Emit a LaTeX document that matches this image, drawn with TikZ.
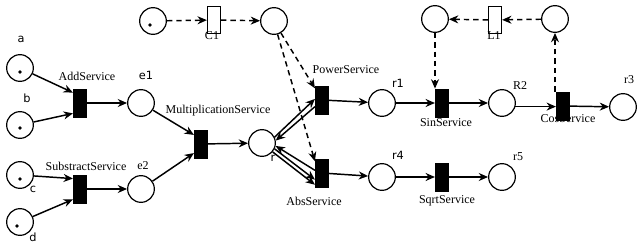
\documentclass[tikz,border=0pt]{standalone}
\usepackage{fontspec}
\setmainfont{Liberation Serif}
\newfontfamily\lblsans{DejaVu Sans}
\usetikzlibrary{arrows.meta}
\begin{document}
\begin{tikzpicture}[x=0.75pt,y=-0.75pt,
  place/.style={circle,draw,line width=0.9pt,minimum size=20pt,inner sep=0pt},
  trans/.style={rectangle,draw,fill=black,line width=0.6pt,minimum width=10pt,minimum height=21pt,inner sep=0pt},
  ctrans/.style={rectangle,draw,fill=white,line width=0.7pt,minimum width=10pt,minimum height=20pt,inner sep=0pt},
  arc/.style={-{Stealth[length=7pt,width=6pt]},line width=1.1pt},
  darc/.style={arc,dash pattern=on 4pt off 3pt},
  tok/.style={circle,fill=black,inner sep=0pt,minimum size=2.8pt},
  slbl/.style={font=\lblsans\fontsize{8.5}{10}\selectfont,inner sep=0pt},
  rlbl/.style={font=\fontsize{9}{11}\selectfont,inner sep=0pt}]
\useasboundingbox (0,0) rectangle (640,246);
% places
\node[place] (a) at (20,68) {};
\node[place] (b) at (20,125) {};
\node[place] (c) at (20,175) {};
\node[place] (d) at (20,222) {};
\node[place] (e1) at (141,103) {};
\node[place] (e2) at (141,189) {};
\node[place] (r) at (262,143) {};
\node[place] (pc1) at (153,21) {};
\node[place] (pc2) at (274,21) {};
\node[place] (r1) at (382,103) {};
\node[place] (R2) at (502,103) {};
\node[place] (r3) at (623,107) {};
\node[place] (r4) at (382,177) {};
\node[place] (r5) at (502,177) {};
\node[place] (pl1) at (435,19) {};
\node[place] (pl2) at (555,19) {};
% tokens
\node[tok] (ta) at (20,72) {};
\node[tok] (tb) at (20,128) {};
\node[tok] (tc) at (20,179) {};
\node[tok] (td) at (17,226) {};
\node[tok] (tp) at (150,25) {};
% transitions
\node[trans] (add) at (80,103) {};
\node[trans] (sub) at (80,189) {};
\node[trans] (mul) at (201,144) {};
\node[trans] (pow) at (322,100) {};
\node[trans] (abs) at (322,173) {};
\node[trans] (sin) at (442,103) {};
\node[trans] (cos) at (563,106) {};
\node[trans] (sqrt) at (442,177) {};
\node[ctrans] (C1) at (214,20) {};
\node[ctrans] (L1) at (495,20) {};
% labels
\node[slbl] (la) at (21,39) {a};
\node[slbl] (lb) at (27,98) {b};
\node[slbl] (lc) at (33,189) {c};
\node[slbl] (ld) at (33,237) {d};
\node[slbl] (le1) at (146,75) {e1};
\node[rlbl] (le2) at (143,166) {e2};
\node[slbl] (lr) at (273,158) {r};
\node[slbl] (lr1) at (398,83) {r1};
\node[slbl] (lr4) at (398,155) {r4};
\node[rlbl] (lR2) at (520,86) {R2};
\node[rlbl] (lr3) at (629,80) {r3};
\node[rlbl] (lr5) at (518,157) {r5};
\node[rlbl] (ladd) at (87,76) {AddService};
\node[rlbl] (lsub) at (86,166) {SubstractService};
\node[rlbl] (lmul) at (218,111) {MultiplicationService};
\node[rlbl] (lpow) at (346,70) {PowerService};
\node[rlbl] (labs) at (314,201) {AbsService};
\node[rlbl] (lsin) at (446,123) {SinService};
\node[rlbl] (lcos) at (568,119) {CosService};
\node[rlbl] (lsqrt) at (447,201) {SqrtService};
\node[rlbl] (lC1) at (212,36) {C1};
\node[rlbl] (lL1) at (494,36) {L1};
% arcs
\draw[arc] (a) -- ([yshift=-3pt]add.north west);
\draw[arc] (b) -- ([yshift=3pt]add.south west);
\draw[arc] (c) -- ([yshift=-3pt]sub.north west);
\draw[arc] (d) -- ([yshift=3pt]sub.south west);
\draw[arc] (add) -- (e1);
\draw[arc] (sub) -- (e2);
\draw[arc] (e1) -- ([yshift=-4pt]mul.north west);
\draw[arc] (e2) -- ([yshift=4pt]mul.south west);
\draw[arc] (mul) -- (r);
\draw[arc] (r.25) -- ([yshift=-10pt]pow.north west);
\draw[arc] ([yshift=-5pt]pow.west) -- (r.10);
\draw[arc] ([yshift=2pt]abs.west) -- (r.-12);
\draw[arc] (r.-25) -- ([yshift=-5pt]abs.west);
\draw[arc] (r.-40) -- ([yshift=2pt]abs.south west);
\draw[arc] (pow) -- (r1);
\draw[arc] (r1) -- (sin);
\draw[arc] (sin) -- (R2);
\draw[arc] (R2.-15) -- (cos.west |- R2.-15);
\draw[arc] (cos) -- (r3);
\draw[arc] (abs) -- (r4);
\draw[arc] (r4) -- (sqrt);
\draw[arc] (sqrt) -- (r5);
% dashed control arcs
\draw[darc] (pc1) -- (C1);
\draw[darc] (C1) -- (pc2);
\draw[darc] (pc2.-60) -- ([yshift=-2pt]pow.north west);
\draw[darc] (pc2.-75) -- ([yshift=-2pt]abs.north west);
\draw[darc] (pl2) -- (L1);
\draw[darc] (L1) -- (pl1);
\draw[darc] (pl1) -- (sin.north -| pl1);
\draw[darc] (cos.north -| pl2) -- (pl2);
\end{tikzpicture}
\end{document}
